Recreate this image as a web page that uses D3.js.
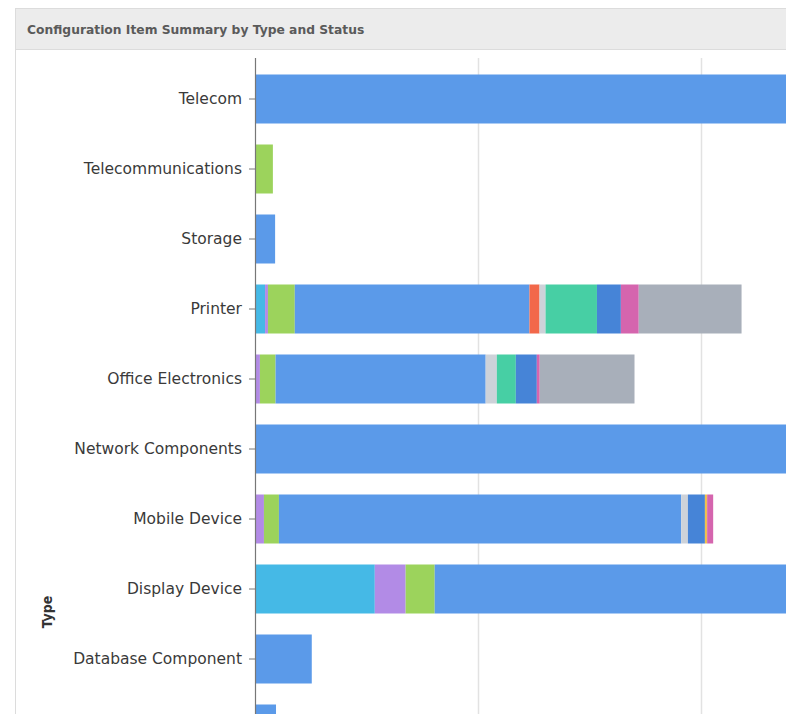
<!DOCTYPE html>
<html>
<head>
<meta charset="utf-8">
<script src="https://cdn.jsdelivr.net/npm/d3@7"></script>
<style>
  html, body { margin: 0; padding: 0; background: #fff; overflow: hidden; }
  svg { display: block; }
</style>
</head>
<body>
<svg id="chart" width="786" height="714"></svg>
<script>
// ---- Data ----
const title = "Configuration Item Summary by Type and Status";
const categories = ["Telecom", "Telecommunications", "Storage", "Printer", "Office Electronics",
  "Network Components", "Mobile Device", "Display Device", "Database Component", "Computer"];
const statuses = ["Draft", "Ordered", "Received", "In Use", "Damaged", "Retired", "In Stock",
  "In Repair", "Lost", "Stolen", "Disposed"];
const statusColors = ["#45b9e6", "#b28be6", "#9cd35c", "#5b9ae9", "#f2684a", "#cdd2d9",
  "#47cfa4", "#4684d7", "#f0c050", "#d565ae", "#a8afba"];
// values per status (same order as categories)
const draft    = [0, 0, 0, 4.5, 0, 0, 0, 53.6, 0, 0];
const ordered  = [0, 0, 0, 1.3, 2.2, 0, 4, 13.8, 0, 0];
const received = [0, 8, 0, 12, 7, 0, 6.7, 13, 0, 0];
const inUse    = [300, 0, 9, 105, 94, 320, 180, 260, 25.4, 9.4];
const damaged  = [0, 0, 0, 4.5, 0, 0, 0, 0, 0, 0];
const retired  = [0, 0, 0, 2.7, 5, 0, 3, 0, 0, 0];
const inStock  = [0, 0, 0, 23, 8.5, 0, 0, 0, 0, 0];
const inRepair = [0, 0, 0, 10.7, 9.4, 0, 7.6, 0, 0, 0];
const lost     = [0, 0, 0, 0, 0, 0, 1, 0, 0, 0];
const stolen   = [0, 0, 0, 8, 1.3, 0, 2.7, 0, 0, 0];
const disposed = [0, 0, 0, 46, 42.4, 0, 0, 0, 0, 0];
const xTicks = [0, 100, 200, 300];
const yAxisTitle = "Type";

const seriesValues = [draft, ordered, received, inUse, damaged, retired, inStock, inRepair, lost, stolen, disposed];
const table = categories.map((c, i) => {
  const row = { type: c };
  statuses.forEach((s, j) => { row[s] = seriesValues[j][i]; });
  return row;
});

// ---- Layout ----
const svg = d3.select("#chart");
const W = 786, H = 714;
const axisX = 255;

// panel & title bar
svg.append("rect").attr("x", 15.5).attr("y", 8.5).attr("width", W).attr("height", H)
  .attr("fill", "#fff").attr("stroke", "#dcdcdc");
svg.append("rect").attr("x", 15.5).attr("y", 8.5).attr("width", W).attr("height", 41)
  .attr("fill", "#ececec").attr("stroke", "#dcdcdc");
svg.append("text").attr("x", 27).attr("y", 33.5)
  .attr("font-family", "'DejaVu Sans', sans-serif")
  .attr("font-weight", "bold").attr("font-size", 12.3).attr("fill", "#5a5a5a")
  .text(title);

const x = d3.scaleLinear().domain([0, 400]).range([axisX, axisX + 894]);
const y = d3.scaleBand().domain(categories).range([64, 764]).paddingInner(0.3).paddingOuter(0.15);

const plotTop = 58;

// gridlines
svg.append("g").selectAll("line").data(xTicks.filter(d => d > 0)).join("line")
  .attr("x1", d => Math.round(x(d)) - 0.5).attr("x2", d => Math.round(x(d)) - 0.5)
  .attr("y1", plotTop).attr("y2", H)
  .attr("stroke", "#e2e2e2").attr("stroke-width", 1.5);

// stacked bars
const stack = d3.stack().keys(statuses);
const layers = stack(table);
const color = d3.scaleOrdinal().domain(statuses).range(statusColors);

svg.append("g").selectAll("g").data(layers).join("g")
  .attr("fill", d => color(d.key))
  .selectAll("rect").data(d => d.filter(p => p[1] - p[0] > 0)).join("rect")
  .attr("x", d => x(d[0]))
  .attr("width", d => x(d[1]) - x(d[0]))
  .attr("y", d => y(d.data.type))
  .attr("height", y.bandwidth());

// y axis
const yAxis = d3.axisLeft(y).tickSize(6).tickPadding(7);
const gy = svg.append("g").attr("transform", `translate(${axisX},0)`).call(yAxis);
gy.select(".domain").remove();
gy.append("line").attr("x1", 0.5).attr("x2", 0.5).attr("y1", plotTop).attr("y2", H)
  .attr("stroke", "#777").attr("stroke-width", 1.2);
gy.selectAll(".tick line").attr("stroke", "#777");
gy.selectAll(".tick text")
  .attr("font-family", "'DejaVu Sans', sans-serif")
  .attr("font-size", 15.5).attr("fill", "#3a3a3a");
// labels whose row lies below the visible area are not drawn (cropped in the reference)
gy.selectAll(".tick").filter(d => y(d) + y.bandwidth() / 2 + 8 > H).select("text").remove();

// axis title
svg.append("text")
  .attr("transform", `translate(52,612) rotate(-90)`)
  .attr("text-anchor", "middle")
  .attr("font-family", "'DejaVu Sans Condensed', 'DejaVu Sans', sans-serif")
  .attr("font-weight", "bold").attr("font-size", 14).attr("fill", "#333")
  .text(yAxisTitle);
</script>
</body>
</html>
